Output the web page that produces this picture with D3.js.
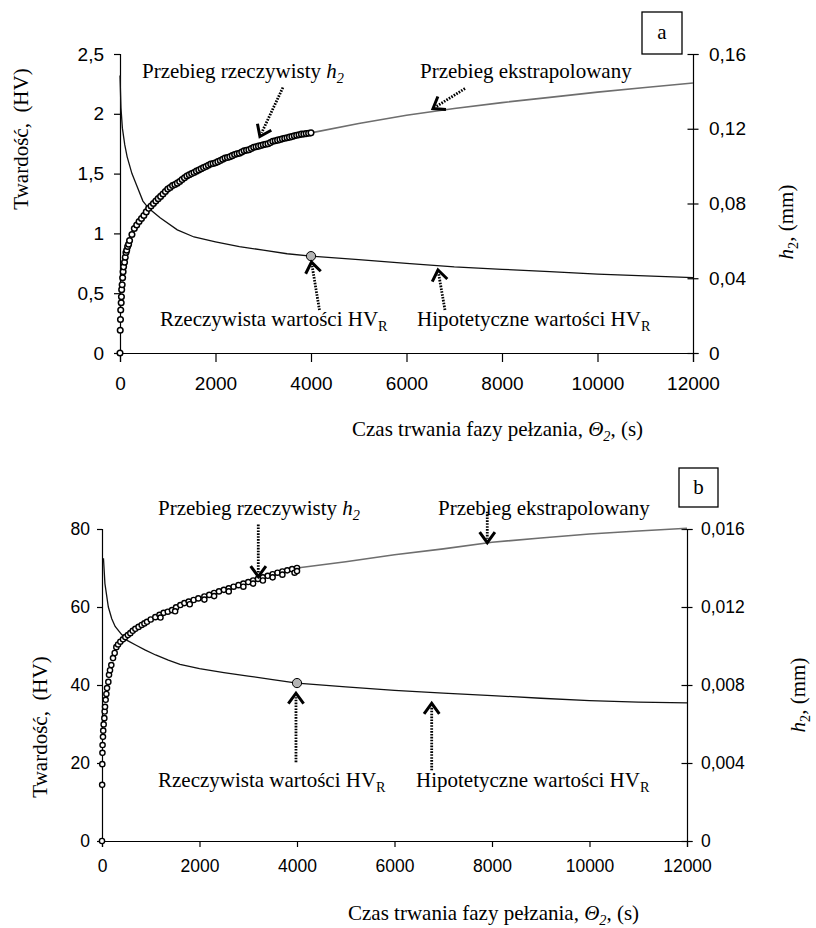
<!DOCTYPE html>
<html>
<head>
<meta charset="utf-8">
<script src="https://cdn.jsdelivr.net/npm/d3@7/dist/d3.min.js"></script>
<style>
  body { margin: 0; background: #fff; }
  svg { display: block; }
  .serif { font-family: "Times New Roman", "Liberation Serif", serif; fill: #000; white-space: pre; }
  .tick text { font-family: Arial, "Liberation Sans", sans-serif; fill: #000; }
</style>
</head>
<body>
<svg id="chart" width="816" height="928"></svg>
<script>
// ---- tick labels ----
var timeTicks = [0, 2000, 4000, 6000, 8000, 10000, 12000];
var hvTicksA = [0, 0.5, 1, 1.5, 2, 2.5];
var hvLabelsA = ["0", "0,5", "1", "1,5", "2", "2,5"];
var h2TicksA = [0, 0.04, 0.08, 0.12, 0.16];
var h2LabelsA = ["0", "0,04", "0,08", "0,12", "0,16"];
var hvTicksB = [0, 20, 40, 60, 80];
var hvLabelsB = ["0", "20", "40", "60", "80"];
var h2TicksB = [0, 0.004, 0.008, 0.012, 0.016];
var h2LabelsB = ["0", "0,004", "0,008", "0,012", "0,016"];

// ---- chart a : [time s, HV] and [time s, h2 mm] ----
var hvCurveA = [[0, 2.32], [20, 2.05], [50, 1.88], [100, 1.74], [150, 1.64], [250, 1.50], [350, 1.40],
  [480, 1.27], [600, 1.21], [840, 1.13], [1200, 1.03], [1550, 0.97], [2000, 0.93], [2500, 0.89],
  [3000, 0.86], [3500, 0.83], [4000, 0.81], [5000, 0.78], [6000, 0.75], [7000, 0.72], [8000, 0.70],
  [9000, 0.68], [10000, 0.66], [11000, 0.645], [12000, 0.63]];
var h2MeasuredA = [[0, 0], [5, 0.0122], [10, 0.0179], [15, 0.0230], [25, 0.0269], [30, 0.0301],
  [35, 0.0339], [45, 0.0365], [55, 0.0403], [65, 0.0435], [75, 0.0461], [95, 0.0486], [110, 0.0512],
  [125, 0.0538], [140, 0.0550], [160, 0.0570], [180, 0.0582], [200, 0.0602], [250, 0.0634],
  [300, 0.0666], [350, 0.0685], [400, 0.0704], [450, 0.0720], [500, 0.0736], [550, 0.0755],
  [600, 0.0774], [650, 0.0787], [700, 0.0800], [750, 0.0813], [800, 0.0826], [850, 0.0838],
  [900, 0.0851], [950, 0.0864], [1000, 0.0877], [1050, 0.0886], [1100, 0.0896], [1150, 0.0902],
  [1200, 0.0909], [1250, 0.0918], [1300, 0.0928], [1350, 0.0938], [1400, 0.0947], [1450, 0.0954],
  [1500, 0.0960], [1550, 0.0966], [1600, 0.0973], [1650, 0.0979], [1700, 0.0986], [1750, 0.0992],
  [1800, 0.0998], [1850, 0.1005], [1900, 0.1011], [1950, 0.1014], [2000, 0.1018], [2050, 0.1024],
  [2100, 0.1030], [2150, 0.1037], [2200, 0.1043], [2250, 0.1046], [2300, 0.1050], [2350, 0.1056],
  [2400, 0.1062], [2450, 0.1066], [2500, 0.1069], [2550, 0.1075], [2600, 0.1082], [2650, 0.1085],
  [2700, 0.1088], [2750, 0.1094], [2800, 0.1101], [2850, 0.1104], [2900, 0.1107], [2950, 0.1110],
  [3000, 0.1114], [3050, 0.1117], [3100, 0.1120], [3150, 0.1126], [3200, 0.1133], [3250, 0.1136],
  [3300, 0.1139], [3350, 0.1142], [3400, 0.1146], [3450, 0.1149], [3500, 0.1152], [3550, 0.1155],
  [3600, 0.1158], [3650, 0.1162], [3700, 0.1165], [3750, 0.1168], [3800, 0.1171], [3850, 0.1172],
  [3900, 0.1174], [3950, 0.1176], [4000, 0.1178]];
var h2ExtrapA = [[4000, 0.1178], [5000, 0.1228], [6000, 0.1272], [7000, 0.1308], [8000, 0.1340],
  [9000, 0.1368], [10000, 0.1396], [11000, 0.1421], [12000, 0.1445]];
var hvPointA = [4000, 0.81];

// ---- chart b ----
var hvCurveB = [[30, 72.5], [60, 66], [130, 60], [200, 57], [270, 55], [400, 53], [506, 51.5],
  [700, 50.2], [880, 49.0], [1100, 47.7], [1360, 46.4], [1600, 45.3], [2000, 44.2], [2500, 43.2],
  [3000, 42.3], [3500, 41.4], [4000, 40.5], [5000, 39.5], [6000, 38.6], [7000, 37.9], [8000, 37.3],
  [9000, 36.6], [10000, 36.0], [11000, 35.6], [12000, 35.4]];
var h2MeasuredB = [[0, 0], [3, 0.00288], [6, 0.00394], [9, 0.00452], [12, 0.00492], [20, 0.00534],
  [25, 0.00566], [34, 0.00598], [48, 0.00630], [55, 0.00664], [62, 0.00688], [75, 0.00724],
  [90, 0.00754], [103, 0.00784], [130, 0.00816], [144, 0.00852], [164, 0.00876], [191, 0.00902],
  [226, 0.00938], [260, 0.00964], [294, 0.00994], [330, 0.01008], [376, 0.01022], [430, 0.01034],
  [478, 0.01046], [530, 0.01056], [581, 0.01066], [630, 0.01078], [684, 0.01088], [750, 0.01098],
  [814, 0.01108], [870, 0.01116], [923, 0.01124], [1000, 0.01136], [1094, 0.01148], [1180, 0.01160],
  [1265, 0.01170], [1350, 0.01176], [1436, 0.01184], [1520, 0.01198], [1607, 0.01210],
  [1690, 0.01220], [1778, 0.01228], [1880, 0.01236], [1976, 0.01244], [2100, 0.01254],
  [2200, 0.01262], [2300, 0.01272], [2400, 0.01280], [2500, 0.01288], [2600, 0.01296],
  [2700, 0.01304], [2800, 0.01312], [2900, 0.01320], [3000, 0.01328], [3100, 0.01336],
  [3200, 0.01344], [3300, 0.01352], [3400, 0.01360], [3500, 0.01368], [3600, 0.01376],
  [3700, 0.01382], [3800, 0.01388], [3900, 0.01394], [4000, 0.01400],
  // lower scatter row
  [1200, 0.01146], [1500, 0.01178], [1800, 0.01214], [2100, 0.01238], [2300, 0.01256],
  [2600, 0.01280], [2900, 0.01304], [3100, 0.01320], [3300, 0.01336], [3500, 0.01352],
  [3700, 0.01366], [3950, 0.01376], [4000, 0.01384]];
var h2ExtrapB = [[4000, 0.01400], [5000, 0.01432], [6000, 0.01468], [7000, 0.01498], [8000, 0.01532],
  [9000, 0.01554], [10000, 0.01574], [11000, 0.01590], [12000, 0.01604]];
var hvPointB = [4000, 40.5];

var svg = d3.select("#chart");

/*
 * text with italic / subscript runs
 */
function richText(g, x, y, parts, size, anchor) {
  var t = g.append("text").attr("class", "serif")
    .attr("x", x).attr("y", y)
    .attr("font-size", size)
    .attr("text-anchor", anchor || "start");
  var shifted = false;
  parts.forEach(function(p) {
    var s = t.append("tspan").text(p.t);
    if (p.i) s.attr("font-style", "italic");
    if (p.sub) {
      s.attr("font-size", size * 0.68).attr("dy", shifted ? 0 : size * 0.22);
      shifted = true;
    } else if (shifted) {
      s.attr("dy", -size * 0.22);
      shifted = false;
    }
  });
  return t;
}

/*
 * dotted shaft + open V head
 */
function arrow(g, tip, off) {
  var tail = [tip[0] + off[0], tip[1] + off[1]];
  var len = Math.sqrt(off[0] * off[0] + off[1] * off[1]);
  var ux = off[0] / len, uy = off[1] / len;
  g.append("line")
    .attr("x1", tail[0]).attr("y1", tail[1])
    .attr("x2", tip[0] + ux * 4).attr("y2", tip[1] + uy * 4)
    .attr("stroke", "#000").attr("stroke-width", 2.8)
    .attr("stroke-dasharray", "1.6,1.3");
  var L = 13, a = 36 * Math.PI / 180;
  function rot(ang) {
    return [tip[0] + L * (ux * Math.cos(ang) - uy * Math.sin(ang)),
            tip[1] + L * (ux * Math.sin(ang) + uy * Math.cos(ang))];
  }
  var w1 = rot(a), w2 = rot(-a);
  g.append("path")
    .attr("d", "M" + w1 + "L" + tip + "L" + w2)
    .attr("fill", "none").attr("stroke", "#000").attr("stroke-width", 3)
    .attr("stroke-linejoin", "miter");
}

function drawChart(c) {
  var g = svg.append("g");
  var x = d3.scaleLinear().domain([0, 12000]).range([c.x0, c.x1]);
  var yL = d3.scaleLinear().domain([0, c.hvMax]).range([c.yBot, c.yTop]);
  var yR = d3.scaleLinear().domain([0, c.h2Max]).range([c.yBot, c.yTop]);

  // axes
  var ax = g.append("g").attr("transform", "translate(0," + c.yBot + ")")
    .call(d3.axisBottom(x).tickValues(timeTicks).tickSizeOuter(0).tickSize(c.xTick)
      .tickFormat(d3.format("d")));
  ax.selectAll("text").attr("y", c.xLabelDy).attr("dy", "0.71em").style("font-size", c.tickFont + "px");

  var al = g.append("g").attr("transform", "translate(" + c.x0 + ",0)")
    .call(d3.axisLeft(yL).tickValues(c.hvTicks).tickSizeOuter(0).tickSize(c.yTick)
      .tickFormat(function(d, i) { return c.hvLabels[i]; }));
  al.selectAll("text").attr("x", -c.leftPad).style("font-size", c.tickFont + "px");

  var ar = g.append("g").attr("transform", "translate(" + c.x1 + ",0)")
    .call(d3.axisRight(yR).tickValues(c.h2Ticks).tickSizeOuter(0).tickSize(5.5)
      .tickFormat(function(d, i) { return c.h2Labels[i]; }));
  ar.selectAll(".tick line").attr("x1", -5.5).attr("x2", 5.5);
  ar.selectAll("text").attr("x", c.rightPad).style("font-size", c.tickFont + "px");

  g.selectAll(".domain, .tick line").attr("stroke", "#000").attr("stroke-width", 1.2);

  // curves
  var hvLine = d3.line().x(function(d) { return x(d[0]); }).y(function(d) { return yL(d[1]); });
  var h2Line = d3.line().x(function(d) { return x(d[0]); }).y(function(d) { return yR(d[1]); });

  g.append("path").datum(c.hvCurve).attr("d", hvLine)
    .attr("fill", "none").attr("stroke", "#111").attr("stroke-width", 1.3);
  g.append("path").datum(c.extrap).attr("d", h2Line)
    .attr("fill", "none").attr("stroke", "#6e6e6e").attr("stroke-width", 1.6);

  g.append("g").selectAll("circle").data(c.measured).join("circle")
    .attr("cx", function(d) { return x(d[0]); })
    .attr("cy", function(d) { return yR(d[1]); })
    .attr("r", c.markR)
    .attr("fill", "#fff").attr("stroke", "#000").attr("stroke-width", c.markW);

  g.append("circle")
    .attr("cx", x(c.hvPoint[0])).attr("cy", yL(c.hvPoint[1])).attr("r", 4.6)
    .attr("fill", "#b4b4b4").attr("stroke", "#000").attr("stroke-width", 1);

  // annotations
  c.notes.forEach(function(n) {
    richText(g, n.x, n.y, n.parts, 21);
  });
  c.arrows.forEach(function(a) {
    arrow(g, [x(a.tip[0]), yL(a.tip[1])], a.off);
  });

  // panel letter box
  g.append("rect").attr("x", c.box[0]).attr("y", c.box[1]).attr("width", c.box[2]).attr("height", c.box[3])
    .attr("fill", "#fff").attr("stroke", "#000").attr("stroke-width", 1.3);
  g.append("text").attr("class", "serif").attr("font-size", 21).attr("text-anchor", "middle")
    .attr("x", c.box[0] + c.box[2] / 2).attr("y", c.box[1] + c.box[3] / 2 + 6).text(c.letter);

  // axis titles
  richText(g, 0, 0, [{ t: "Twardość,\u00a0\u00a0(HV)" }], 21, "middle")
    .attr("dy", "0.35em")
    .attr("transform", "translate(" + c.leftTitle + ") rotate(-90)");
  richText(g, 0, 0, [{ t: "h", i: true }, { t: "2", sub: true }, { t: ", (mm)" }], 21, "middle")
    .attr("dy", "0.3em")
    .attr("transform", "translate(" + c.rightTitle + ") rotate(-90)");
  richText(g, c.xTitle[0], c.xTitle[1],
    [{ t: "Czas trwania fazy pełzania, " }, { t: "Θ", i: true }, { t: "2", i: true, sub: true }, { t: ", (s)" }], 21);
}

var hRun = [{ t: "Przebieg rzeczywisty " }, { t: "h", i: true }, { t: "2", i: true, sub: true }];
var realRun = [{ t: "Rzeczywista wartości HV" }, { t: "R", sub: true }];
var hypoRun = [{ t: "Hipotetyczne wartości HV" }, { t: "R", sub: true }];
var extRun = [{ t: "Przebieg ekstrapolowany" }];

drawChart({
  letter: "a", x0: 120, x1: 693, yTop: 54, yBot: 353,
  hvMax: 2.5, h2Max: 0.16,
  hvTicks: hvTicksA, hvLabels: hvLabelsA, h2Ticks: h2TicksA, h2Labels: h2LabelsA,
  hvCurve: hvCurveA, measured: h2MeasuredA, extrap: h2ExtrapA, hvPoint: hvPointA,
  tickFont: 19, xTick: 9, yTick: 6, xLabelDy: 24, leftPad: 16, rightPad: 16, markR: 2.8, markW: 1.5,
  box: [642, 12, 40, 42],
  leftTitle: [21, 139], rightTitle: [787, 222], xTitle: [352, 436],
  notes: [
    { x: 142, y: 78, parts: hRun },
    { x: 420, y: 78, parts: extRun },
    { x: 160, y: 326, parts: realRun },
    { x: 417, y: 326, parts: hypoRun }
  ],
  arrows: [
    { tip: [2930, 1.81], off: [23, -49] },
    { tip: [6555, 2.044], off: [32, -20] },
    { tip: [4010, 0.76], off: [8, 48] },
    { tip: [6659, 0.694], off: [7, 40] }
  ]
});

drawChart({
  letter: "b", x0: 102, x1: 687, yTop: 529, yBot: 841,
  hvMax: 80, h2Max: 0.016,
  hvTicks: hvTicksB, hvLabels: hvLabelsB, h2Ticks: h2TicksB, h2Labels: h2LabelsB,
  hvCurve: hvCurveB, measured: h2MeasuredB, extrap: h2ExtrapB, hvPoint: hvPointB,
  tickFont: 17.5, xTick: 6, yTick: 5, xLabelDy: 19, leftPad: 12, rightPad: 14, markR: 2.6, markW: 1.4,
  box: [679, 468, 39, 39],
  leftTitle: [40, 727], rightTitle: [799, 695], xTitle: [348, 920],
  notes: [
    { x: 158, y: 515, parts: hRun },
    { x: 438, y: 515, parts: extRun },
    { x: 158, y: 787, parts: realRun },
    { x: 416, y: 787, parts: hypoRun }
  ],
  arrows: [
    { tip: [3206, 67.8], off: [0, -52] },
    { tip: [7903, 76.5], off: [0, -31] },
    { tip: [3979, 37.9], off: [0, 69] },
    { tip: [6763, 35.3], off: [0, 67] }
  ]
});
</script>
</body>
</html>
